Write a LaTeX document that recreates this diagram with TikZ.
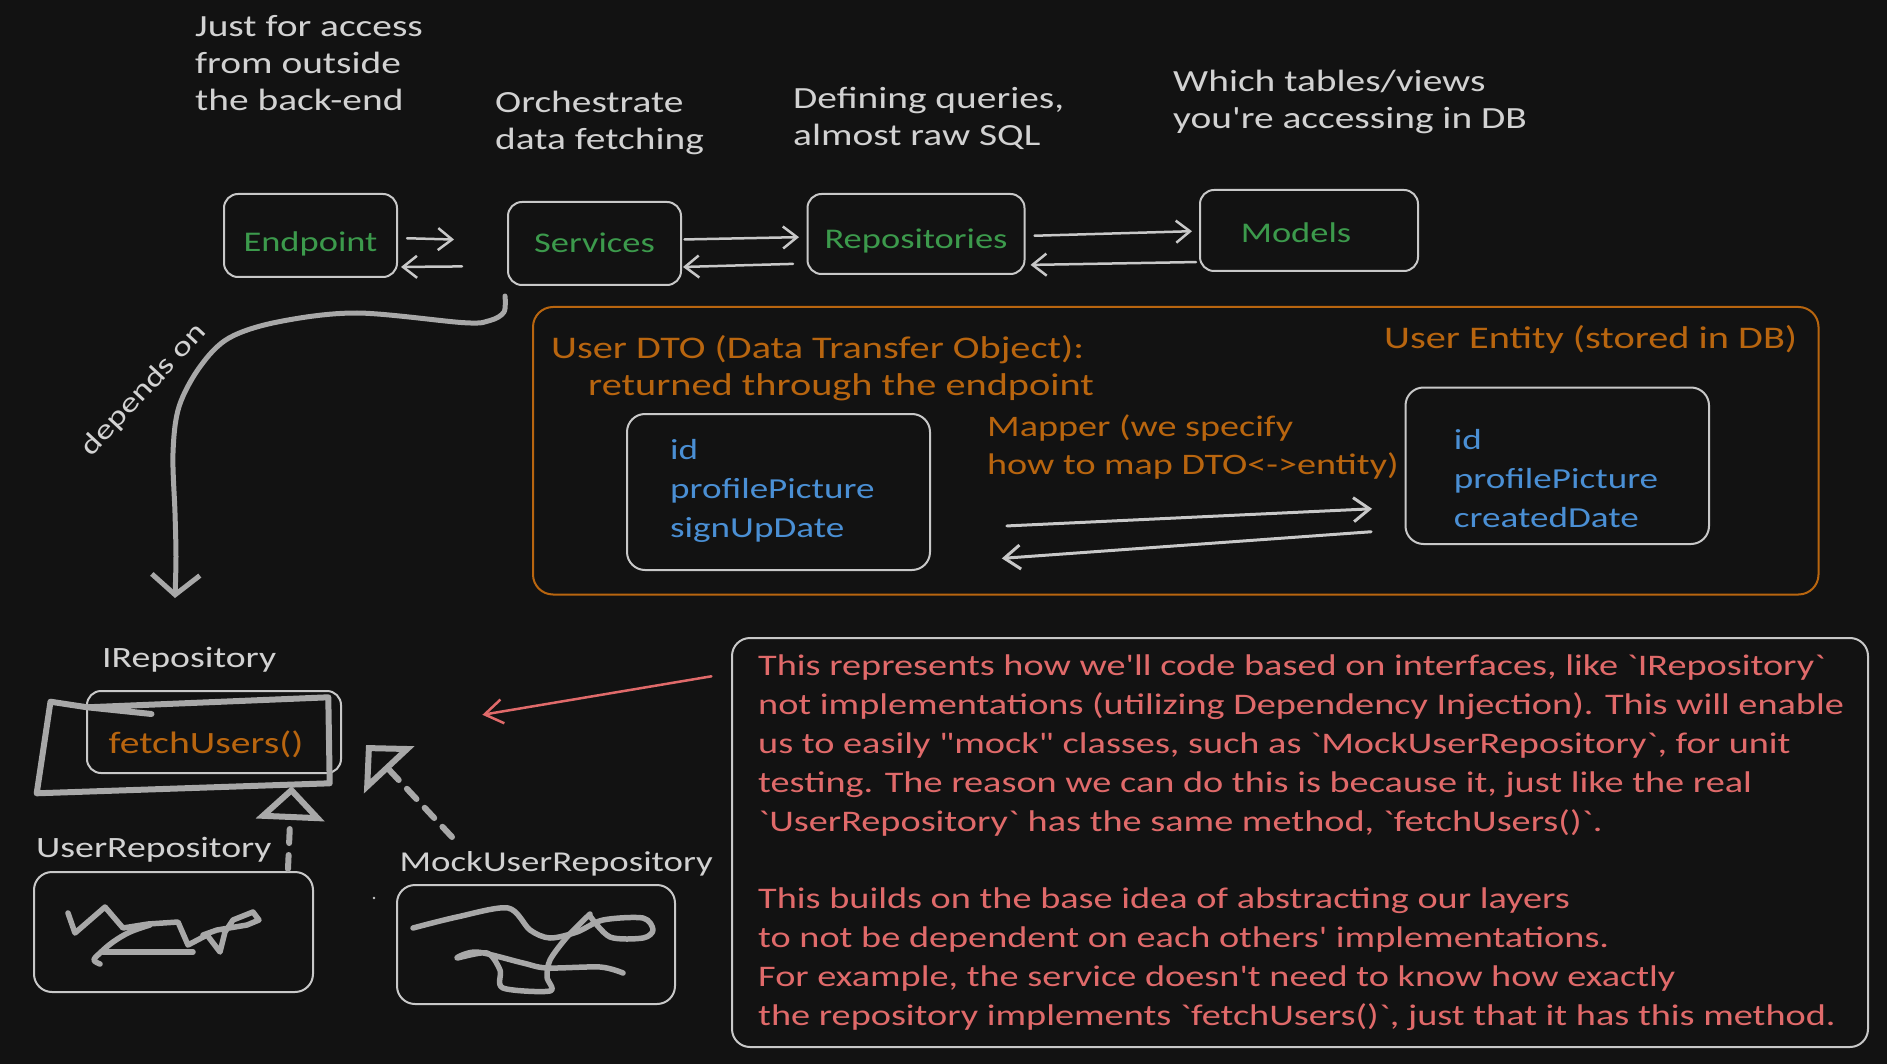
\documentclass[tikz,border=0pt]{standalone}
\usepackage{fontspec}
\newfontfamily\handfont{Carlito}[FakeStretch=1.28]
\usetikzlibrary{arrows.meta, positioning}
\definecolor{canvas}{HTML}{121212}
\definecolor{inkgray}{HTML}{D2D2D2}
\definecolor{linegray}{HTML}{C8C8C8}
\definecolor{scribgray}{HTML}{A8A8A8}
\definecolor{layergreen}{HTML}{3C9A4C}
\definecolor{fieldblue}{HTML}{4A8FD4}
\definecolor{dtoorange}{HTML}{B8650F}
\definecolor{notered}{HTML}{E06A6A}
\newcommand{\layertext}[2]{\raisebox{#1}[0pt][0pt]{#2}}

\begin{document}
\begin{tikzpicture}[x=1pt, y=-1pt,
  lbl/.style={font=\handfont\fontsize{30.8}{37.3}\selectfont, text=inkgray, align=left, inner sep=0pt},
  classlbl/.style={font=\handfont\fontsize{29.5}{36}\selectfont, text=inkgray, inner sep=0pt},
  layer/.style={draw=linegray, line width=2pt, rounded corners=14pt, text=layergreen, font=\handfont\fontsize{28.5}{34}\selectfont},
  card/.style={draw=linegray, line width=2pt, rounded corners=18pt},
  field/.style={font=\handfont\fontsize{29}{39}\selectfont, text=fieldblue, align=left, inner sep=0pt},
  dtotext/.style={font=\handfont\fontsize{31.5}{37.5}\selectfont, text=dtoorange, align=left, inner sep=0pt},
  notetext/.style={font=\handfont\fontsize{29.9}{38.8}\selectfont, text=notered, align=left, inner sep=0pt},
  arrow/.style={-{Straight Barb[length=14pt 0 0, width=22pt 0 0]}, line width=2.5pt, color=linegray, line cap=round},
  maparrow/.style={-{Straight Barb[length=16pt 0 0, width=24pt 0 0]}, line width=3pt, color=linegray, line cap=round},
  depends/.style={-{Straight Barb[length=20pt 0 0, width=48pt 0 0]}, line width=5pt, color=scribgray, line cap=round, line join=round},
  impl/.style={-{Triangle[open, length=34pt 0 0, width=68pt 0 0]}, line width=6pt, color=scribgray, dash pattern=on 14pt off 12pt, line cap=round},
  scrib/.style={line width=6pt, color=scribgray, line cap=round, line join=round},
  redarrow/.style={-{Straight Barb[length=18pt 0 0, width=24pt 0 0]}, line width=2.5pt, color=notered, line cap=round}
]
\useasboundingbox (0,0) rectangle (1887,1064);
\fill[canvas] (0,0) rectangle (1887,1064);

% layers
\node[lbl, anchor=north west] (endpointnote) at (195,15) {Just for access\\from outside\\the back-end};
\node[lbl, anchor=north west] (servicesnote) at (495,91) {Orchestrate\\data fetching};
\node[lbl, anchor=north west] (reposnote) at (793,87) {Defining queries,\\almost raw SQL};
\node[lbl, anchor=north west] (modelsnote) at (1173,70) {Which tables/views\\you're accessing in DB};

\node[layer, minimum width=173pt, minimum height=83pt] (endpoint) at (310.5,235.5) {\layertext{-16pt}{Endpoint}};
\node[layer, minimum width=173pt, minimum height=83pt] (services) at (594.5,243.5) {\layertext{-9pt}{Services}};
\node[layer, minimum width=217pt, minimum height=80pt] (repos) at (916,234) {\layertext{-15pt}{Repositories}};
\node[layer, minimum width=218pt, minimum height=81pt] (models) at (1309,230.5) {\layertext{-12.5pt}{Models\hspace*{26pt}}};

\draw[arrow, shorten <=9pt, shorten >=53pt] ([yshift=-2.5pt]endpoint.east) -- ([yshift=2.5pt]services.west);
\draw[arrow, shorten <=45pt, shorten >=3pt] ([yshift=-22.5pt]services.west) -- ([yshift=-31.5pt]endpoint.east);
\draw[arrow, shorten <=2.5pt, shorten >=7.5pt] ([yshift=4pt]services.east) -- ([yshift=-3pt]repos.west);
\draw[arrow, shorten <=13.5pt, shorten >=1pt] ([yshift=-29.5pt]repos.west) -- ([yshift=-23.5pt]services.east);
\draw[arrow, shorten <=9pt, shorten >=7pt] ([yshift=-2pt]repos.east) -- ([yshift=-0.5pt]models.west);
\draw[arrow, shorten <=3pt, shorten >=5pt] ([yshift=-31.5pt]models.west) -- ([yshift=-31pt]repos.east);

% depends on
\coordinate (depstart) at ([shift={(-2pt,-10pt)}]services.south west);
\coordinate (depend) at (175,598);
\draw[depends] plot[smooth, tension=0.55] coordinates {(depstart) (504,312) (490,320.5) (464,322.7) (357,313) (279,321.7) (229,338) (200,366.7) (179,406.7) (173,453) (175,513) (176,556.7) (depend)};
\node[lbl, rotate=47, font=\handfont\fontsize{28}{34}\selectfont] (dependslbl) at (144,390) {depends on};

% DTO / entity
\node[draw=dtoorange, line width=2pt, rounded corners=20pt, minimum width=1285.5pt, minimum height=287.5pt] (dtoframe) at (1175.75,450.75) {};
\node[dtotext, anchor=north west] (dtotitle) at (551,335) {User DTO (Data Transfer Object):\\\hspace*{37pt}returned through the endpoint};
\node[dtotext, anchor=west] (entitytitle) at (1384,339.5) {User Entity (stored in DB)};
\node[card, minimum width=303pt, minimum height=156pt] (dto) at (778.5,492) {};
\node[field, anchor=north west] (dtofields) at (670,439) {id\\profilePicture\\signUpDate};
\node[card, minimum width=303.5pt, minimum height=156.5pt] (entity) at (1557.25,465.75) {};
\node[field, anchor=north west] (entityfields) at (1453.7,429.5) {id\\profilePicture\\createdDate};
\node[dtotext, anchor=north west, font=\handfont\fontsize{29.8}{37.5}\selectfont] (mapper) at (987,415) {Mapper (we specify\\how to map DTO<->entity)};
\draw[maparrow, shorten <=76pt, shorten >=32.5pt] ([yshift=-37.5pt]dto.east) -- ([yshift=-41.5pt]entity.west);
\draw[maparrow, shorten <=33.5pt, shorten >=71pt] ([yshift=-63.6pt]entity.west) -- ([yshift=-71.5pt]dto.east);

% interface and implementations
\node[classlbl, anchor=west] (irepolbl) at (102,660) {IRepository};
\node[card, rounded corners=14pt, minimum width=254pt, minimum height=82pt] (irepo) at (214,732) {};
\node[inner sep=0pt, text=dtoorange, font=\handfont\fontsize{31}{37}\selectfont] (fetchcall) at (206,744) {fetchUsers()};
\draw[scrib] (151.5,714) -- (87.2,707.3) -- (328.3,697.3) -- (329.7,783.3) -- (36.7,793.3) -- (50.5,701.7) -- (87.2,707.3);

\node[classlbl, anchor=west] (userlbl) at (36,849.6) {UserRepository};
\node[card, minimum width=279pt, minimum height=120pt] (user) at (173.5,932) {};
\node[classlbl, anchor=west, font=\handfont\fontsize{28.8}{36}\selectfont] (mocklbl) at (399.5,864) {MockUserRepository};
\node[card, minimum width=278pt, minimum height=119pt] (mock) at (536,944.5) {};
\fill[linegray] (374,898) circle (1.3pt);

\draw[scrib, line width=5.5pt] (68,913) -- (75,933) -- (105,907) -- (123,928) -- (148,924) -- (178,922) -- (188,945) -- (207,935) -- (220,952) -- (225,932) -- (233,920) -- (253,912) -- (259,920) -- (247,925) -- (217,930) -- (203,935);
\draw[scrib, line width=5.5pt] plot[smooth, tension=0.6] coordinates {(100,964) (94,960) (100,953) (113,942) (130,932) (150,925)};
\draw[scrib, line width=5.5pt] (103,952) -- (193,952);

\draw[scrib, line width=5.5pt] plot[smooth, tension=0.5] coordinates {(413,928) (457,917) (508,908) (530,930) (550,938) (577,932) (603,920) (643,918) (653,930) (643,938) (610,937) (590,916)};
\draw[scrib, line width=5.5pt] plot[smooth, tension=0.5] coordinates {(590,914) (567,937) (550,960) (547,977) (550,991) (503,988) (500,970) (487,953) (457,958) (477,952) (523,963) (547,968) (600,967) (623,973)};

\draw[impl] ([shift={(114.5pt,2pt)}]user.north) -- ([shift={(77.6pt,-12pt)}]irepo.south);
\draw[impl] ([shift={(-84pt,47pt)}]mock.north) -- ([shift={(24pt,-13pt)}]irepo.east);

% explanation
\node[card, minimum width=1136pt, minimum height=409pt] (note) at (1300,842.5) {};
\node[notetext, anchor=north west] (notebody) at (758,655) {This represents how we'll code based on interfaces, like `IRepository`\\not implementations (utilizing Dependency Injection). This will enable\\us to easily "mock" classes, such as `MockUserRepository`, for unit\\testing. The reason we can do this is because it, just like the real\\`UserRepository` has the same method, `fetchUsers()`.\\[38.8pt]This builds on the base idea of abstracting our layers\\to not be dependent on each others' implementations.\\For example, the service doesn't need to know how exactly\\the repository implements `fetchUsers()`, just that it has this method.};
\draw[redarrow] ([shift={(-19.6pt,166.2pt)}]note.west) -- ([shift={(140.4pt,17.2pt)}]irepo.east);
\end{tikzpicture}
\end{document}
